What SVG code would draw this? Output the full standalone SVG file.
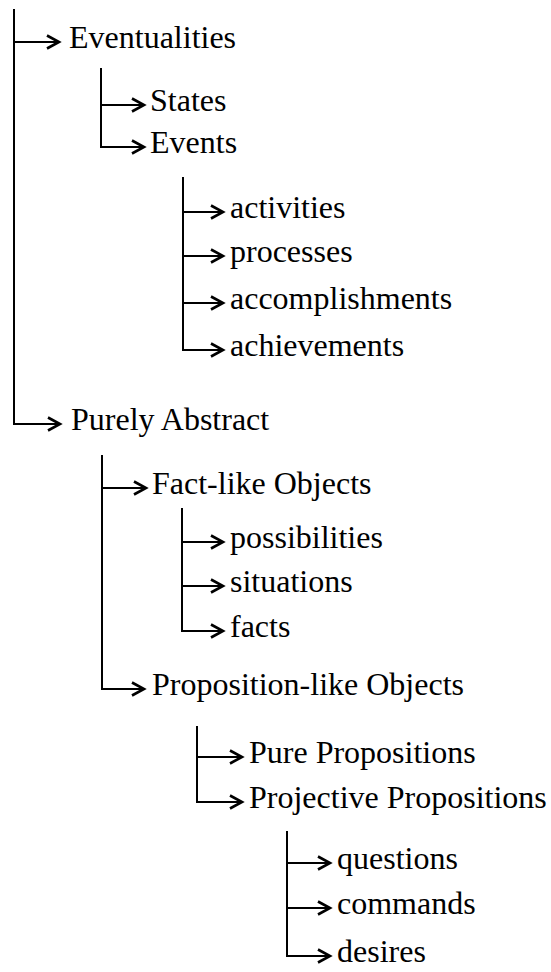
<svg xmlns="http://www.w3.org/2000/svg" width="551" height="972" viewBox="0 0 551 972">
  <style>
    .lbl { font-family: "Liberation Serif", "Times New Roman", serif; font-size: 32px; fill: #000; }
    .trunk, .branch { stroke: #000; stroke-width: 2; fill: none; }
    .branch { marker-end: url(#arr); }
  </style>
  <defs>
    <marker id="arr" markerUnits="userSpaceOnUse" markerWidth="20" markerHeight="20" refX="13" refY="8" orient="auto" overflow="visible">
      <path d="M1,1.5 L13,8 L1,14.5" fill="none" stroke="#000" stroke-width="2.6"/>
    </marker>
  </defs>
  <rect width="551" height="972" fill="#fff"/>

  <g id="connectors">
    <!-- root -->
    <line class="trunk" x1="14" y1="9" x2="14" y2="425"/>
    <line class="branch" x1="13" y1="42" x2="59" y2="42"/>
    <line class="branch" x1="13" y1="424" x2="60" y2="424"/>
    <!-- Eventualities -->
    <line class="trunk" x1="101" y1="68" x2="101" y2="148"/>
    <line class="branch" x1="100" y1="105" x2="144" y2="105"/>
    <line class="branch" x1="100" y1="147" x2="144" y2="147"/>
    <!-- Events -->
    <line class="trunk" x1="183" y1="177" x2="183" y2="351"/>
    <line class="branch" x1="182" y1="212" x2="223" y2="212"/>
    <line class="branch" x1="182" y1="256" x2="223" y2="256"/>
    <line class="branch" x1="182" y1="303" x2="223" y2="303"/>
    <line class="branch" x1="182" y1="350" x2="223" y2="350"/>
    <!-- Purely Abstract -->
    <line class="trunk" x1="102" y1="455" x2="102" y2="690"/>
    <line class="branch" x1="101" y1="488" x2="146" y2="488"/>
    <line class="branch" x1="101" y1="689" x2="144" y2="689"/>
    <!-- Fact-like Objects -->
    <line class="trunk" x1="182" y1="508" x2="182" y2="632"/>
    <line class="branch" x1="181" y1="542" x2="223" y2="542"/>
    <line class="branch" x1="181" y1="586" x2="223" y2="586"/>
    <line class="branch" x1="181" y1="631" x2="223" y2="631"/>
    <!-- Proposition-like Objects -->
    <line class="trunk" x1="197" y1="726" x2="197" y2="803"/>
    <line class="branch" x1="196" y1="757" x2="242" y2="757"/>
    <line class="branch" x1="196" y1="802" x2="242" y2="802"/>
    <!-- Projective Propositions -->
    <line class="trunk" x1="287" y1="831" x2="287" y2="957"/>
    <line class="branch" x1="286" y1="863" x2="330" y2="863"/>
    <line class="branch" x1="286" y1="908" x2="330" y2="908"/>
    <line class="branch" x1="286" y1="956" x2="330" y2="956"/>
  </g>

  <g id="eventualities"><text class="lbl" x="69" y="48">Eventualities</text></g>
  <g id="states"><text class="lbl" x="150" y="111">States</text></g>
  <g id="events"><text class="lbl" x="150" y="153">Events</text></g>
  <g id="activities"><text class="lbl" x="230" y="218">activities</text></g>
  <g id="processes"><text class="lbl" x="230" y="262">processes</text></g>
  <g id="accomplishments"><text class="lbl" x="230" y="309">accomplishments</text></g>
  <g id="achievements"><text class="lbl" x="230" y="356">achievements</text></g>
  <g id="purely-abstract"><text class="lbl" x="71" y="430">Purely Abstract</text></g>
  <g id="fact-like"><text class="lbl" x="152" y="494">Fact-like Objects</text></g>
  <g id="possibilities"><text class="lbl" x="230" y="548">possibilities</text></g>
  <g id="situations"><text class="lbl" x="230" y="592">situations</text></g>
  <g id="facts"><text class="lbl" x="230" y="637">facts</text></g>
  <g id="proposition-like"><text class="lbl" x="152" y="695">Proposition-like Objects</text></g>
  <g id="pure-propositions"><text class="lbl" x="249" y="763">Pure Propositions</text></g>
  <g id="projective-propositions"><text class="lbl" x="249" y="808">Projective Propositions</text></g>
  <g id="questions"><text class="lbl" x="337" y="869">questions</text></g>
  <g id="commands"><text class="lbl" x="337" y="914">commands</text></g>
  <g id="desires"><text class="lbl" x="337" y="962">desires</text></g>
</svg>
